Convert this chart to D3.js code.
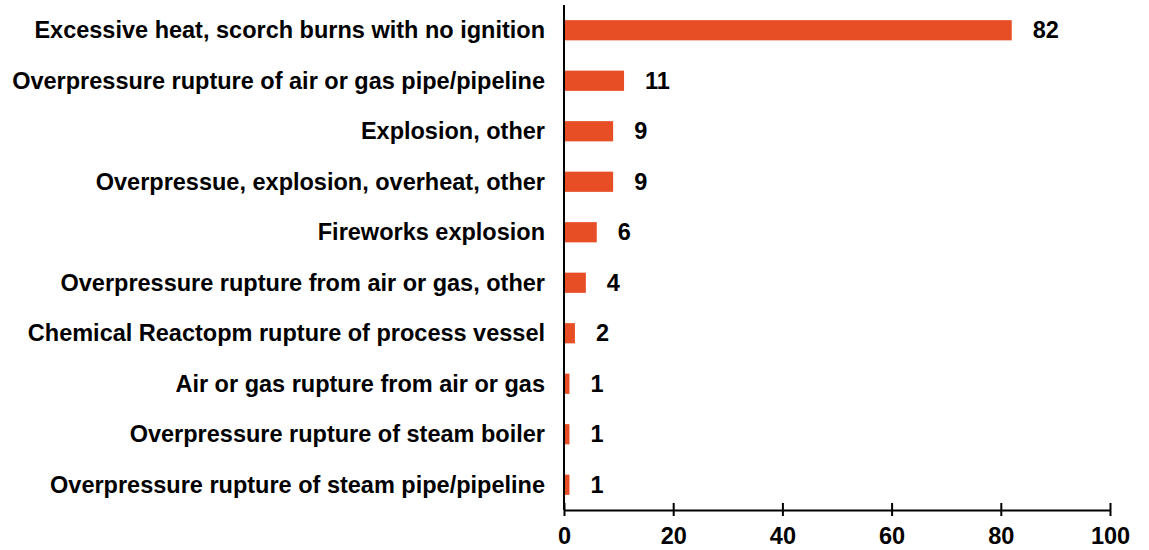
<!DOCTYPE html>
<html>
<head>
<meta charset="utf-8">
<script src="https://cdn.jsdelivr.net/npm/d3@7"></script>
<style>
  body { margin: 0; background: #fff; }
  text { font-family: "Liberation Sans", Arial, sans-serif; font-weight: bold; fill: #000; }
</style>
</head>
<body>
<div class="viewbox"></div>
<script>
  // chart data, top to bottom
  const categories = [
    "Excessive heat, scorch burns with no ignition",
    "Overpressure rupture of air or gas pipe/pipeline",
    "Explosion, other",
    "Overpressue, explosion, overheat, other",
    "Fireworks explosion",
    "Overpressure rupture from air or gas, other",
    "Chemical Reactopm rupture of process vessel",
    "Air or gas rupture from air or gas",
    "Overpressure rupture of steam boiler",
    "Overpressure rupture of steam pipe/pipeline"
  ];
  const counts = [82, 11, 9, 9, 6, 4, 2, 1, 1, 1];
  const xTicks = [0, 20, 40, 60, 80, 100];

  const svg_width = 1149;
  const svg_height = 550;
  const plotLeft = 564, plotRight = 1110, plotTop = 5, plotBottom = 510;
  const fontSize = "23.5px";

  let svg = d3.select(".viewbox")
    .append("svg")
    .attr("width", svg_width)
    .attr("height", svg_height);

  let x = d3.scaleLinear().domain([0, 100]).range([plotLeft, plotRight]);
  let y = d3.scaleBand().domain(categories).range([plotTop, plotBottom]).paddingInner(0.6).paddingOuter(0.3);

  // bars
  svg.selectAll("rect.bar")
    .data(categories)
    .enter()
    .append("rect")
    .attr("class", "bar")
    .attr("x", x(0))
    .attr("y", d => y(d))
    .attr("width", (d, i) => x(counts[i]) - x(0))
    .attr("height", y.bandwidth())
    .attr("fill", "#E84E25");

  // value labels
  svg.selectAll("text.val")
    .data(categories)
    .enter()
    .append("text")
    .attr("class", "val")
    .attr("x", (d, i) => x(counts[i]) + 21)
    .attr("y", d => y(d) + y.bandwidth() / 2)
    .attr("dy", "0.33em")
    .style("font-size", fontSize)
    .text((d, i) => counts[i]);

  // category labels
  svg.selectAll("text.cat")
    .data(categories)
    .enter()
    .append("text")
    .attr("class", "cat")
    .attr("x", plotLeft - 19)
    .attr("y", d => y(d) + y.bandwidth() / 2)
    .attr("dy", "0.33em")
    .attr("text-anchor", "end")
    .style("font-size", fontSize)
    .text(d => d);

  // y axis line
  svg.append("line")
    .attr("x1", plotLeft).attr("x2", plotLeft)
    .attr("y1", plotTop).attr("y2", plotBottom)
    .attr("stroke", "#000").attr("stroke-width", 2);

  // x axis: ticks cross the line
  let xAxis = d3.axisBottom(x).tickValues(xTicks).tickSize(0).tickPadding(17);
  let gx = svg.append("g")
    .attr("transform", `translate(0,${plotBottom})`)
    .call(xAxis);
  gx.select(".domain").attr("stroke", "#000").attr("stroke-width", 2);
  gx.selectAll(".tick line").remove();
  gx.selectAll(".tick")
    .append("line")
    .attr("y1", -7).attr("y2", 6)
    .attr("stroke", "#000").attr("stroke-width", 2);
  gx.selectAll(".tick text")
    .style("font-size", fontSize)
    .style("font-family", "'Liberation Sans', Arial, sans-serif")
    .style("font-weight", "bold")
    .attr("fill", "#000");
</script>
</body>
</html>
